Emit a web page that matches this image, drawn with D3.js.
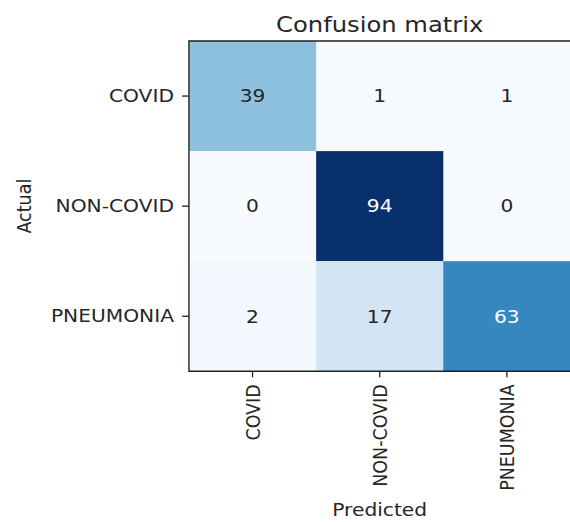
<!DOCTYPE html>
<html lang="en">
<head>
<meta charset="utf-8">
<title>Confusion matrix</title>
<script src="https://cdn.jsdelivr.net/npm/d3@7"></script>
<style>
  body { margin: 0; background: #fff; }
  svg text { font-family: "DejaVu Sans", sans-serif; }
</style>
</head>
<body>
<div id="chart"></div>
<script>
// data
var actualLabels = ["COVID", "NON-COVID", "PNEUMONIA"];
var predictedLabels = ["COVID", "NON-COVID", "PNEUMONIA"];
var counts = [
  [39, 1, 1],
  [0, 94, 0],
  [2, 17, 63]
];

function drawMatrix() {
  var width = 570, height = 522;
  // the picture is stretched sideways, cells are square before that
  var sx = 1.155;

  var svg = d3.select("#chart").append("svg")
    .attr("width", width)
    .attr("height", height);

  var g = svg.append("g").attr("transform", "scale(" + sx + ",1)");

  var left = 163.6, plotTop = 41, cell = 110.1;

  var x = d3.scaleBand().domain(predictedLabels).range([left, left + 3 * cell]);
  var y = d3.scaleBand().domain(actualLabels).range([plotTop, plotTop + 3 * cell]);

  var maxVal = d3.max(counts.flat());
  // matplotlib Blues is a linear ramp over the 9 brewer colours
  var blues = d3.schemeBlues[9];
  var color = d3.scaleLinear()
    .domain(d3.range(9).map(function (i) { return i / 8 * maxVal; }))
    .range(blues)
    .interpolate(d3.interpolateRgb);

  var cells = [];
  counts.forEach(function (row, i) {
    row.forEach(function (v, j) {
      cells.push({ a: actualLabels[i], p: predictedLabels[j], v: v });
    });
  });

  g.selectAll("rect.cell")
    .data(cells)
    .join("rect")
    .attr("class", "cell")
    .attr("x", function (d) { return x(d.p); })
    .attr("y", function (d) { return y(d.a); })
    .attr("width", x.bandwidth() + 1)
    .attr("height", y.bandwidth())
    .attr("fill", function (d) { return color(d.v); });

  g.selectAll("text.val")
    .data(cells)
    .join("text")
    .attr("class", "val")
    .attr("x", function (d) { return x(d.p) + x.bandwidth() / 2; })
    .attr("y", function (d) { return y(d.a) + y.bandwidth() / 2; })
    .attr("dy", "0.36em")
    .attr("text-anchor", "middle")
    .attr("font-size", 17.5)
    .attr("fill", function (d) { return d.v > maxVal / 2 ? "#fff" : "#262626"; })
    .text(function (d) { return d.v; });

  // spines (the right one falls off the cropped picture)
  var right = left + 3 * cell + 2, bottom = plotTop + 3 * cell;
  g.append("path")
    .attr("d", "M" + right + "," + plotTop + "H" + left + "V" + bottom + "H" + right)
    .attr("fill", "none")
    .attr("stroke", "#222")
    .attr("stroke-width", 1.4)
    .attr("vector-effect", "non-scaling-stroke");

  var yAxis = g.append("g")
    .attr("transform", "translate(" + left + ",0)")
    .call(d3.axisLeft(y).tickSize(6).tickPadding(7).tickSizeOuter(0));
  yAxis.select(".domain").remove();
  yAxis.selectAll("line").attr("stroke", "#222").attr("stroke-width", 1.3).attr("vector-effect", "non-scaling-stroke");
  yAxis.selectAll("text").attr("font-size", 17.5).attr("fill", "#262626")
    .style("font-family", "DejaVu Sans");

  var xAxis = g.append("g")
    .attr("transform", "translate(0," + bottom + ")")
    .call(d3.axisBottom(x).tickSize(6).tickPadding(7).tickSizeOuter(0));
  xAxis.select(".domain").remove();
  xAxis.selectAll("line").attr("stroke", "#222").attr("stroke-width", 1.3).attr("vector-effect", "non-scaling-stroke");
  xAxis.selectAll("text")
    .attr("font-size", 17.5)
    .attr("fill", "#262626")
    .style("font-family", "DejaVu Sans")
    .attr("transform", "rotate(-90)")
    .attr("text-anchor", "end")
    .attr("x", -13)
    .attr("y", 0)
    .attr("dy", "0.35em");

  // titles
  g.append("text")
    .attr("x", left + 1.5 * cell)
    .attr("y", 32)
    .attr("text-anchor", "middle")
    .attr("font-size", 21)
    .attr("fill", "#262626")
    .text("Confusion matrix");

  g.append("text")
    .attr("x", left + 1.5 * cell)
    .attr("y", 516)
    .attr("text-anchor", "middle")
    .attr("font-size", 17.5)
    .attr("fill", "#262626")
    .text("Predicted");

  g.append("text")
    .attr("transform", "translate(" + 27 + "," + (plotTop + 1.5 * cell) + ") rotate(-90)")
    .attr("text-anchor", "middle")
    .attr("font-size", 17.5)
    .attr("fill", "#262626")
    .text("Actual");
}
drawMatrix();
</script>
</body>
</html>
